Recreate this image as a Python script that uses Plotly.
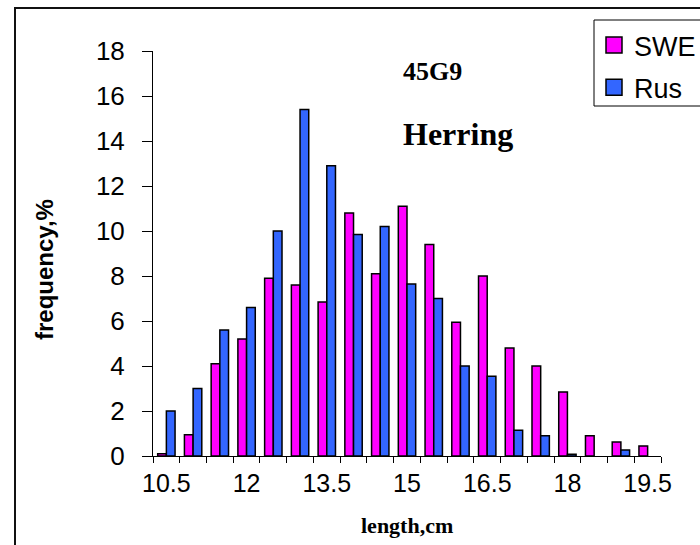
import plotly.graph_objects as go

categories = ["10.5", "11", "11.5", "12", "12.5", "13", "13.5", "14", "14.5", "15",
              "15.5", "16", "16.5", "17", "17.5", "18", "18.5", "19", "19.5"]
swe = [0.1, 0.95, 4.1, 5.2, 7.9, 7.6, 6.85, 10.8, 8.1, 11.1,
       9.4, 5.95, 8.0, 4.8, 4.0, 2.85, 0.9, 0.62, 0.45]
rus = [2.0, 3.0, 5.6, 6.6, 10.0, 15.4, 12.9, 9.85, 10.2, 7.65,
       7.0, 4.0, 3.55, 1.15, 0.9, 0.08, None, 0.27, None]
tick_labels = ["10.5", "12", "13.5", "15", "16.5", "18", "19.5"]
series_names = ["SWE", "Rus"]
series_colors = ["#FF00FF", "#3366FF"]

ticktext = [c if c in tick_labels else "" for c in categories]

fig = go.Figure()
for name, vals, col in zip(series_names, [swe, rus], series_colors):
    fig.add_trace(go.Bar(x=categories, y=vals, name=name, showlegend=False,
                         marker=dict(color=col, line=dict(color="black", width=1.5))))
# legend entries (square swatches)
for name, col in zip(series_names, series_colors):
    fig.add_trace(go.Scatter(x=[None], y=[None], mode="markers", name=name,
                             legendgroup=name,
                             marker=dict(symbol="square", size=16, color=col,
                                         line=dict(color="black", width=1.5))))

W, H = 700, 545
L, R, T, B = 153, 39, 51, 89
pw, ph = W - L - R, H - T - B

def px(xp):
    return (xp - L) / pw

def py(yp):
    return (H - B - yp) / ph

# open-sided legend frame (cut off by the right edge in the original)
lx0, lx1, ly0, ly1 = px(594), px(760), py(20), py(106)
legend_frame = f"M {lx1},{ly0} L {lx0},{ly0} L {lx0},{ly1} L {lx1},{ly1}"
# chart border: top and left sides
cx0, cx1, cy0, cy1 = px(15), px(760), py(8), py(620)
chart_frame = f"M {cx1},{cy0} L {cx0},{cy0} L {cx0},{cy1}"

fig.update_layout(
    width=W, height=H,
    margin=dict(l=L, r=R, t=T, b=B, pad=0, autoexpand=False),
    paper_bgcolor="white", plot_bgcolor="white",
    barmode="group", bargap=0.35, bargroupgap=0,
    font=dict(family="Liberation Sans, Arial", size=26, color="black"),
    showlegend=True,
    legend=dict(x=px(594), y=py(21), xanchor="left", yanchor="top",
                borderwidth=0, bgcolor="rgba(0,0,0,0)",
                font=dict(size=27, family="Liberation Sans, Arial"),
                traceorder="grouped", tracegroupgap=4, itemwidth=30,
                itemsizing="trace"),
    xaxis=dict(type="category", tickmode="array", tickvals=categories, ticktext=ticktext,
               tickson="boundaries", ticks="outside", ticklen=6, tickwidth=1,
               tickcolor="black", showline=True, linecolor="black", linewidth=1,
               showgrid=False, tickangle=0, tickfont=dict(size=25),
               ticklabelstandoff=5),
    yaxis=dict(range=[0, 18], tickmode="linear", tick0=0, dtick=2, ticks="outside",
               ticklen=10, tickwidth=1, tickcolor="black", showline=True,
               linecolor="black", linewidth=1, showgrid=False, zeroline=False,
               tickfont=dict(size=26), ticklabelstandoff=12),
    annotations=[
        dict(text="<b>45G9</b>", x=px(401), y=py(72), xref="paper", yref="paper",
             xanchor="left", yanchor="middle", showarrow=False,
             font=dict(family="Liberation Serif, Times New Roman", size=26)),
        dict(text="<b>Herring</b>", x=px(401), y=py(134), xref="paper", yref="paper",
             xanchor="left", yanchor="middle", showarrow=False,
             font=dict(family="Liberation Serif, Times New Roman", size=32)),
        dict(text="<b>length,cm</b>", x=px(407), y=py(525), xref="paper", yref="paper",
             xanchor="center", yanchor="middle", showarrow=False,
             font=dict(family="Liberation Serif, Times New Roman", size=22)),
        dict(text="<b>frequency,%</b>", x=px(44), y=py(270), xref="paper", yref="paper",
             xanchor="center", yanchor="middle", showarrow=False, textangle=-90,
             font=dict(family="Liberation Sans, Arial", size=24)),
    ],
    shapes=[
        dict(type="path", xref="paper", yref="paper", path=chart_frame,
             line=dict(color="#111", width=2), layer="below"),
        dict(type="path", xref="paper", yref="paper", path=legend_frame,
             line=dict(color="black", width=1), layer="below"),
    ],
)

fig.write_html("out.html", config={"displayModeBar": False},
               post_script="document.body.style.margin='0';document.body.style.overflow='hidden';")
